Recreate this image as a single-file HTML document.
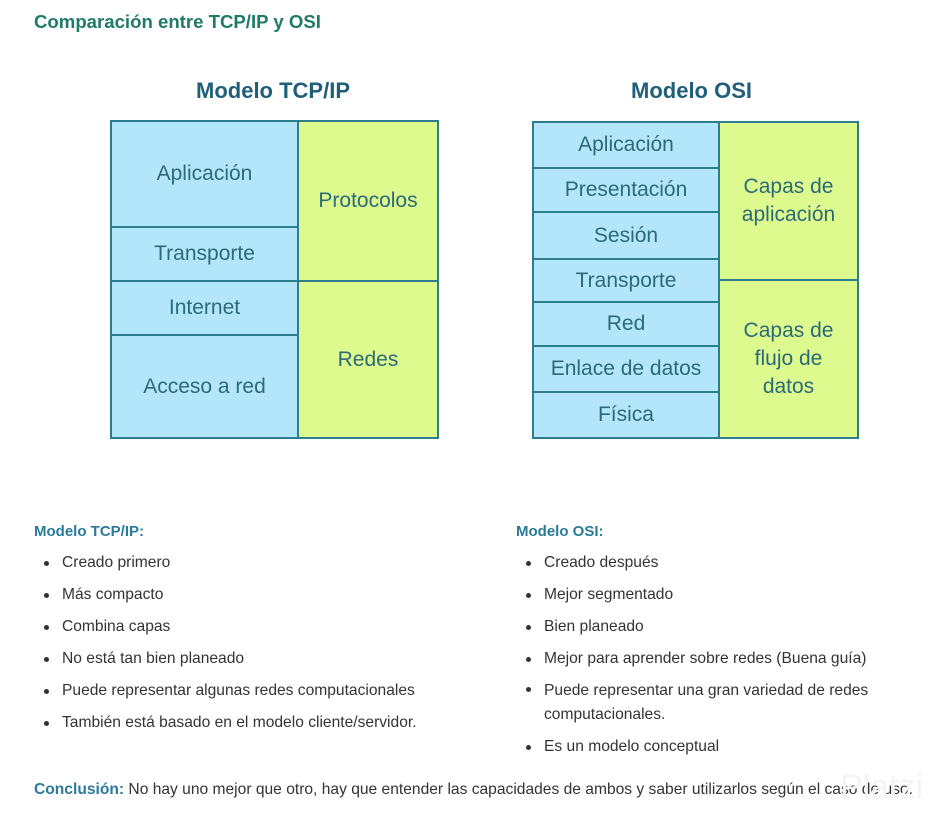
<!DOCTYPE html>
<html><head><meta charset="utf-8"><style>
body{margin:0;width:949px;height:825px;background:#fff;position:relative;overflow:hidden;font-family:"Liberation Sans","DejaVu Sans",sans-serif}
.a{position:absolute}
.c{position:absolute;box-sizing:border-box;border:2px solid #2e7d8c;display:flex;align-items:center;justify-content:center;text-align:center;color:#2c6a78;font-size:21px;line-height:28px}
.b{background:#b4e6fb}.g{background:#ddfa8e}
.h{position:absolute;font-weight:bold;color:#1f5f7a;font-size:22px}
.sub{position:absolute;font-weight:bold;color:#2a7a9a;font-size:15px}
ul{position:absolute;margin:0;padding:0;list-style:none;font-size:15.6px;color:#333}
li{position:relative;padding-left:28px;height:32px;line-height:20px}
li:before{content:"";position:absolute;left:10px;top:8px;width:5px;height:5px;border-radius:50%;background:#333}
</style></head><body>
<div class="a" style="left:34px;top:11px;font-size:18.6px;font-weight:bold;color:#1f7a68">Comparación entre TCP/IP y OSI</div>
<div class="h" style="left:196px;top:78px">Modelo TCP/IP</div>
<div class="h" style="left:631px;top:78px">Modelo OSI</div>

<div class="c b" style="left:110px;top:120px;width:189px;height:108px">Aplicación</div>
<div class="c b" style="left:110px;top:226px;width:189px;height:56px">Transporte</div>
<div class="c b" style="left:110px;top:280px;width:189px;height:56px">Internet</div>
<div class="c b" style="left:110px;top:334px;width:189px;height:105px">Acceso a red</div>
<div class="c g" style="left:297px;top:120px;width:142px;height:162px">Protocolos</div>
<div class="c g" style="left:297px;top:280px;width:142px;height:159px">Redes</div>

<div class="c b" style="left:532px;top:121px;width:188px;height:48px">Aplicación</div>
<div class="c b" style="left:532px;top:167px;width:188px;height:46px">Presentación</div>
<div class="c b" style="left:532px;top:211px;width:188px;height:49px">Sesión</div>
<div class="c b" style="left:532px;top:258px;width:188px;height:45px">Transporte</div>
<div class="c b" style="left:532px;top:301px;width:188px;height:46px">Red</div>
<div class="c b" style="left:532px;top:345px;width:188px;height:48px">Enlace de datos</div>
<div class="c b" style="left:532px;top:391px;width:188px;height:48px">Física</div>
<div class="c g" style="left:718px;top:121px;width:141px;height:160px">Capas de<br>aplicación</div>
<div class="c g" style="left:718px;top:279px;width:141px;height:160px">Capas de<br>flujo de<br>datos</div>

<div class="sub" style="left:34px;top:523px">Modelo TCP/IP:</div>
<ul style="left:34px;top:553px">
<li>Creado primero</li><li>Más compacto</li><li>Combina capas</li><li>No está tan bien planeado</li><li>Puede representar algunas redes computacionales</li><li>También está basado en el modelo cliente/servidor.</li>
</ul>
<div class="sub" style="left:516px;top:523px;font-weight:bold">Modelo OSI:</div>
<ul style="left:516px;top:553px">
<li>Creado después</li><li>Mejor segmentado</li><li>Bien planeado</li><li>Mejor para aprender sobre redes (Buena guía)</li><li style="height:56px;line-height:24px;top:-2px">Puede representar una gran variedad de redes<br>computacionales.</li><li>Es un modelo conceptual</li>
</ul>
<div class="a" style="left:34px;top:781px;font-size:15.6px;color:#333;white-space:nowrap"><b style="color:#2a7a9a">Conclusión:</b> No hay uno mejor que otro, hay que entender las capacidades de ambos y saber utilizarlos según el caso de uso.</div>
<div class="a" style="left:840px;top:768px;font-size:34px;color:#f3f5f3">Platzi</div>
</body></html>
